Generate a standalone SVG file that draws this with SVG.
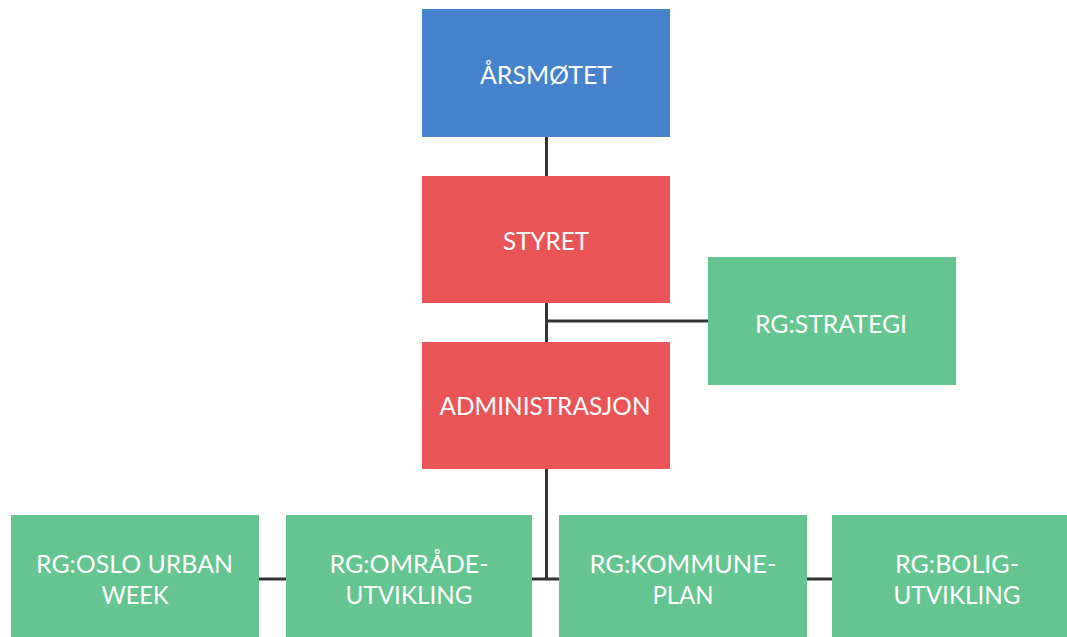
<svg xmlns="http://www.w3.org/2000/svg" width="1067" height="637" viewBox="0 0 1067 637">
<style>
.box{stroke:none}
.blue{fill:#4782CC}
.red{fill:#E95556}
.green{fill:#65C590}
.lbl{font-family:Lato,"Open Sans",sans-serif;font-size:25.5px;fill:#FFFFFF;text-anchor:middle}
.conn{stroke:#333333;stroke-width:3;fill:none}
</style>
<rect width="1067" height="637" fill="#FFFFFF"/>
<g id="connectors">
<line class="conn" x1="546.5" y1="137" x2="546.5" y2="176"/>
<line class="conn" x1="546.5" y1="303" x2="546.5" y2="342"/>
<line class="conn" x1="546.5" y1="321" x2="708" y2="321"/>
<line class="conn" x1="546.5" y1="469" x2="546.5" y2="579"/>
<line class="conn" x1="532" y1="579" x2="559" y2="579"/>
<line class="conn" x1="259" y1="579" x2="286" y2="579"/>
<line class="conn" x1="807" y1="579" x2="832" y2="579"/>
</g>
<g id="arsmotet">
<rect class="box blue" x="422" y="9" width="248" height="128"/>
<text class="lbl" x="546" y="83.5" textLength="132" lengthAdjust="spacingAndGlyphs">ÅRSMØTET</text>
</g>
<g id="styret">
<rect class="box red" x="422" y="176" width="248" height="127"/>
<text class="lbl" x="546" y="250" textLength="86" lengthAdjust="spacingAndGlyphs">STYRET</text>
</g>
<g id="administrasjon">
<rect class="box red" x="422" y="342" width="248" height="127"/>
<text class="lbl" x="545" y="415" textLength="211" lengthAdjust="spacingAndGlyphs">ADMINISTRASJON</text>
</g>
<g id="rg-strategi">
<rect class="box green" x="708" y="257" width="248" height="128"/>
<text class="lbl" x="831" y="332.5" textLength="152" lengthAdjust="spacingAndGlyphs">RG:STRATEGI</text>
</g>
<g id="rg-oslo-urban-week">
<rect class="box green" x="11" y="515" width="248" height="128"/>
<text class="lbl" x="134.5" y="572.5" textLength="197" lengthAdjust="spacingAndGlyphs">RG:OSLO URBAN</text>
<text class="lbl" x="135" y="603.5" textLength="67" lengthAdjust="spacingAndGlyphs">WEEK</text>
</g>
<g id="rg-omradeutvikling">
<rect class="box green" x="286" y="515" width="246" height="128"/>
<text class="lbl" x="409" y="572.5" textLength="159" lengthAdjust="spacingAndGlyphs">RG:OMRÅDE-</text>
<text class="lbl" x="409" y="603.5" textLength="127" lengthAdjust="spacingAndGlyphs">UTVIKLING</text>
</g>
<g id="rg-kommuneplan">
<rect class="box green" x="559" y="515" width="248" height="128"/>
<text class="lbl" x="683" y="572.5" textLength="187" lengthAdjust="spacingAndGlyphs">RG:KOMMUNE-</text>
<text class="lbl" x="683" y="603.5" textLength="61" lengthAdjust="spacingAndGlyphs">PLAN</text>
</g>
<g id="rg-boligutvikling">
<rect class="box green" x="832" y="515" width="248" height="128"/>
<text class="lbl" x="957" y="572.5" textLength="124" lengthAdjust="spacingAndGlyphs">RG:BOLIG-</text>
<text class="lbl" x="957" y="603.5" textLength="127" lengthAdjust="spacingAndGlyphs">UTVIKLING</text>
</g>
</svg>
